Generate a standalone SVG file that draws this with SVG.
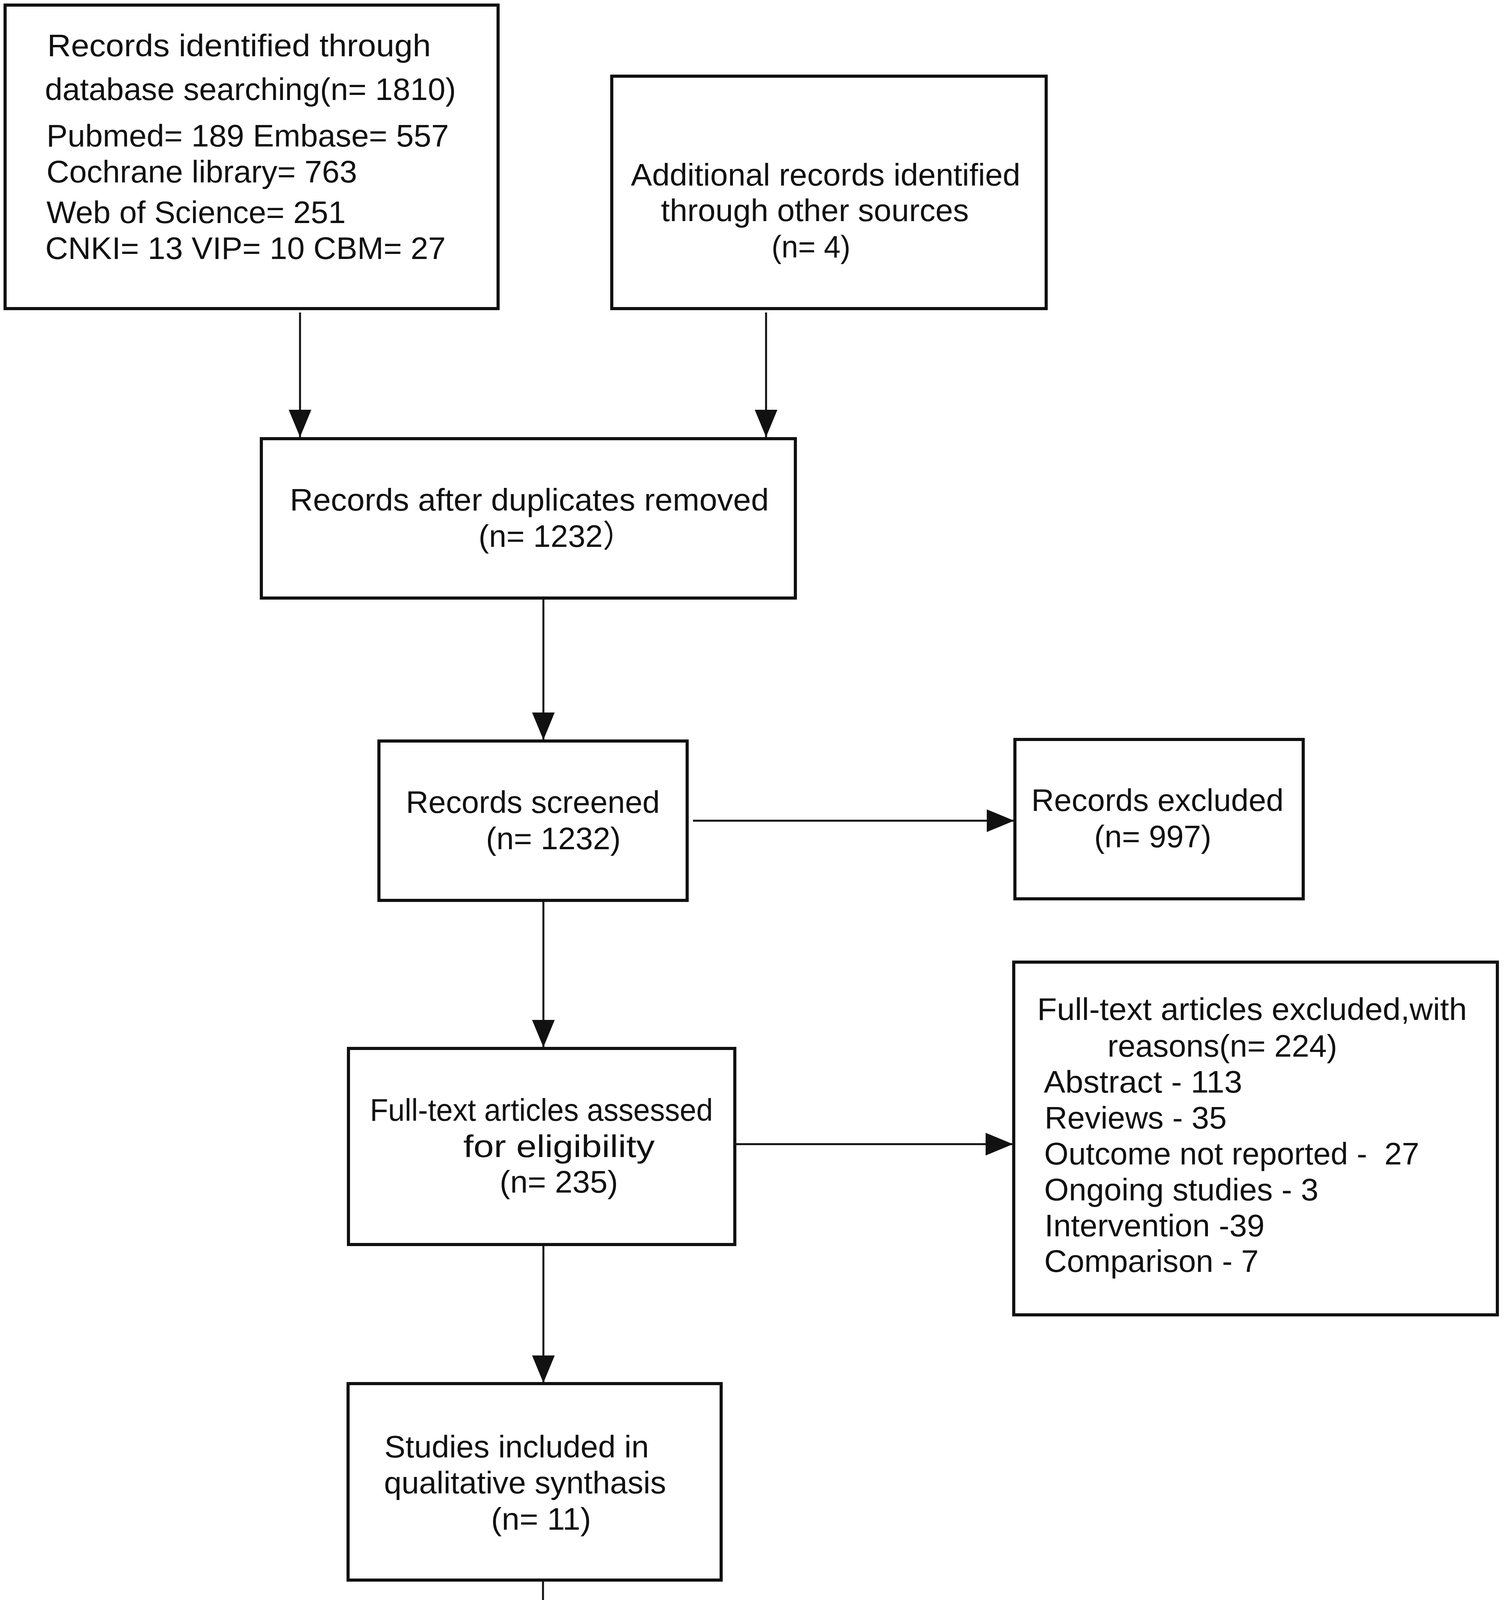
<svg xmlns="http://www.w3.org/2000/svg" width="3850" height="4986" viewBox="0 0 3850 4986">
<style>
.box{fill:#fff;stroke:#111;stroke-width:8}
.con{fill:none;stroke:#111;stroke-width:5}
text{font-family:"Liberation Sans",Arial,"Noto Sans CJK SC",sans-serif;fill:#111;white-space:pre}
.t1{font-size:80px}
.t2{font-size:79px}
.t3{font-size:80px}
</style>
<defs>
<marker id="ah" markerUnits="userSpaceOnUse" markerWidth="70" markerHeight="58" refX="70" refY="29" orient="auto">
<path d="M0,0 L70,29 L0,58 Z" fill="#111"/>
</marker>
</defs>
<rect width="3850" height="4986" fill="#fff"/>
<g id="connectors">
<line class="con" x1="768" y1="800" x2="768" y2="1119" marker-end="url(#ah)"/>
<line class="con" x1="1961" y1="800" x2="1961" y2="1119" marker-end="url(#ah)"/>
<line class="con" x1="1391" y1="1535" x2="1391" y2="1894" marker-end="url(#ah)"/>
<line class="con" x1="1774" y1="2101" x2="2596" y2="2101" marker-end="url(#ah)"/>
<line class="con" x1="1391" y1="2307" x2="1391" y2="2681" marker-end="url(#ah)"/>
<line class="con" x1="1883" y1="2929" x2="2593" y2="2929" marker-end="url(#ah)"/>
<line class="con" x1="1391" y1="3190" x2="1391" y2="3540" marker-end="url(#ah)"/>
<line class="con" x1="1390" y1="4049" x2="1390" y2="4436" marker-end="url(#ah)"/>
</g>
<g id="n1">
<rect class="box" x="13" y="13" width="1262" height="777"/>
<text class="t1" x="121" y="144" textLength="982" lengthAdjust="spacingAndGlyphs">Records identified through</text>
<text class="t1" x="115" y="256" textLength="1052" lengthAdjust="spacingAndGlyphs">database searching(n= 1810)</text>
<text class="t1" x="119" y="375" textLength="1030" lengthAdjust="spacingAndGlyphs">Pubmed= 189 Embase= 557</text>
<text class="t1" x="119" y="467" textLength="795" lengthAdjust="spacingAndGlyphs">Cochrane library= 763</text>
<text class="t1" x="119" y="571" textLength="766" lengthAdjust="spacingAndGlyphs">Web of Science= 251</text>
<text class="t1" x="116" y="663" textLength="1025" lengthAdjust="spacingAndGlyphs">CNKI= 13 VIP= 10 CBM= 27</text>
</g>
<g id="n2">
<rect class="box" x="1566" y="195" width="1112" height="595"/>
<text class="t1" x="1615" y="475" textLength="997" lengthAdjust="spacingAndGlyphs">Additional records identified</text>
<text class="t1" x="1692" y="566" textLength="788" lengthAdjust="spacingAndGlyphs">through other sources</text>
<text class="t1" x="1975" y="659" textLength="202" lengthAdjust="spacingAndGlyphs">(n= 4)</text>
</g>
<g id="n3">
<rect class="box" x="669" y="1123" width="1367" height="408"/>
<text class="t1" x="742" y="1307" textLength="1226" lengthAdjust="spacingAndGlyphs">Records after duplicates removed</text>
<text class="t1" x="1225" y="1400">(n= 1232）</text>
</g>
<g id="n4">
<rect class="box" x="970" y="1897" width="789" height="408"/>
<text class="t2" x="1039" y="2081" textLength="650" lengthAdjust="spacingAndGlyphs">Records screened</text>
<text class="t2" x="1244" y="2174" textLength="345" lengthAdjust="spacingAndGlyphs">(n= 1232)</text>
</g>
<g id="n5">
<rect class="box" x="2598" y="1893" width="738" height="408"/>
<text class="t2" x="2640" y="2076" textLength="646" lengthAdjust="spacingAndGlyphs">Records excluded</text>
<text class="t2" x="2801" y="2169" textLength="300" lengthAdjust="spacingAndGlyphs">(n= 997)</text>
</g>
<g id="n6">
<rect class="box" x="892" y="2684" width="989" height="502"/>
<text class="t2" x="947" y="2869" textLength="878" lengthAdjust="spacingAndGlyphs">Full-text articles assessed</text>
<text class="t2" x="1186" y="2962" textLength="490" lengthAdjust="spacingAndGlyphs">for eligibility</text>
<text class="t2" x="1279" y="3053" textLength="303" lengthAdjust="spacingAndGlyphs">(n= 235)</text>
</g>
<g id="n7">
<rect class="box" x="2595" y="2463" width="1238" height="903"/>
<text class="t2" x="2655" y="2611" textLength="1100" lengthAdjust="spacingAndGlyphs">Full-text articles excluded,with</text>
<text class="t2" x="2835" y="2705" textLength="588" lengthAdjust="spacingAndGlyphs">reasons(n= 224)</text>
<text class="t2" x="2672" y="2797" textLength="508" lengthAdjust="spacingAndGlyphs">Abstract - 113</text>
<text class="t2" x="2674" y="2889" textLength="466" lengthAdjust="spacingAndGlyphs">Reviews - 35</text>
<text class="t2" x="2673" y="2981" textLength="960" lengthAdjust="spacingAndGlyphs">Outcome not reported -  27</text>
<text class="t2" x="2673" y="3073" textLength="702" lengthAdjust="spacingAndGlyphs">Ongoing studies - 3</text>
<text class="t2" x="2674" y="3165" textLength="563" lengthAdjust="spacingAndGlyphs">Intervention -39</text>
<text class="t2" x="2673" y="3256" textLength="549" lengthAdjust="spacingAndGlyphs">Comparison - 7</text>
</g>
<g id="n8">
<rect class="box" x="891" y="3542" width="955" height="503"/>
<text class="t3" x="984" y="3731" textLength="677" lengthAdjust="spacingAndGlyphs">Studies included in</text>
<text class="t3" x="983" y="3823" textLength="722" lengthAdjust="spacingAndGlyphs">qualitative synthasis</text>
<text class="t3" x="1257" y="3916" textLength="256" lengthAdjust="spacingAndGlyphs">(n= 11)</text>
</g>
<g id="n9">
<rect class="box" x="877" y="4438" width="969" height="532"/>
<text class="t3" x="1024" y="4621" textLength="681" lengthAdjust="spacingAndGlyphs">Studies included in</text>
<text class="t3" x="1023" y="4712" textLength="774" lengthAdjust="spacingAndGlyphs">quantitative synthasis</text>
<text class="t3" x="1092" y="4805" textLength="553" lengthAdjust="spacingAndGlyphs">(meta-analysis)</text>
<text class="t3" x="1254" y="4893" textLength="256" lengthAdjust="spacingAndGlyphs">(n= 11)</text>
</g>
</svg>
